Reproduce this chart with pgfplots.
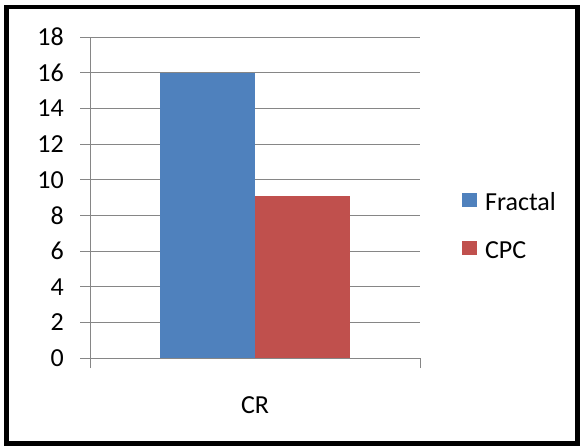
\documentclass[border=0pt]{standalone}
\usepackage{fontspec}
\setmainfont{Carlito}
\usepackage{pgfplots}
\pgfplotsset{compat=1.18}
\definecolor{fblue}{HTML}{4F81BD}
\definecolor{cred}{HTML}{C0504D}
\definecolor{gridc}{HTML}{868686}
\begin{document}
\begin{tikzpicture}[font=\fontsize{26bp}{30bp}\selectfont]
\useasboundingbox (0,0) rectangle (580bp,446bp);
\fill[white] (0,0) rectangle (580bp,446bp);
\draw[line width=4.5bp] (6.5bp,2.5bp) rectangle (577.5bp,439bp);
\begin{axis}[
  at={(90bp,88bp)}, anchor=south west,
  scale only axis, width=330bp, height=321bp,
  xmin=-0.5, xmax=0.5, ymin=0, ymax=18,
  ytick={0,2,...,18},
  xtick={-0.5,0.5}, xticklabels={,},
  extra x ticks={0}, extra x tick labels={CR},
  extra x tick style={major tick length=0pt, xticklabel style={inner sep=0pt, anchor=north, yshift=-38bp}},
  tick align=outside, major tick length=10bp,
  axis lines*=left,
  axis line style={gridc, line width=0.75bp},
  every tick/.style={gridc, line width=0.75bp},
  ymajorgrids, grid style={gridc, line width=0.75bp},
  ybar=0pt, bar width=0.288,
  /pgf/number format/assume math mode=true,
  tick label style={font=\fontsize{26bp}{30bp}\selectfont, text=black},
  yticklabel style={inner sep=0pt, xshift=-16bp},
  legend style={at={(1.127,0.435)}, anchor=west, draw=none, fill=none, inner sep=0pt,
    font=\fontsize{26bp}{30bp}\selectfont, row sep=15bp,
    nodes={inner sep=0pt, text height=18bp, text depth=0pt}},
  legend cell align=left,
]
\addplot[fill=fblue, draw=none, legend image code/.code={\path[fill=none,draw=none] (0bp,-6bp) rectangle (23bp,24bp); \fill[fblue] (0bp,-5bp) rectangle (15bp,9bp);}] coordinates {(0,16)};
\addplot[fill=cred, draw=none, legend image code/.code={\path[fill=none,draw=none] (0bp,-6bp) rectangle (23bp,24bp); \fill[cred] (0bp,-5bp) rectangle (15bp,9bp);}] coordinates {(0,9.1)};
\legend{Fractal, CPC}
\end{axis}
\end{tikzpicture}
\end{document}
